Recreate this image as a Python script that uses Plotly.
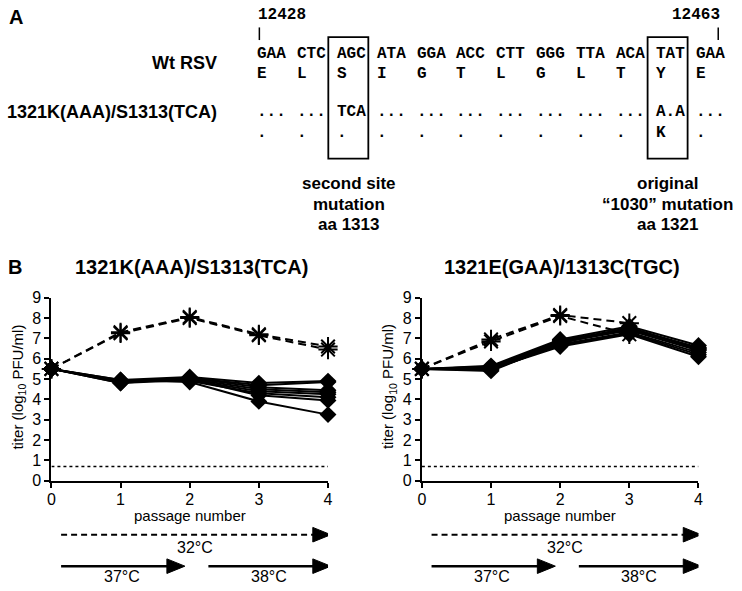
import plotly.graph_objects as go

# ---------------- data ----------------
passages = [0, 1, 2, 3, 4]

# Panel B left: 1321K(AAA)/S1313(TCA)
left_solid = [
    [5.5, 4.95, 5.10, 4.80, 4.90],
    [5.5, 4.90, 5.05, 4.60, 4.45],
    [5.5, 4.85, 5.00, 4.50, 4.35],
    [5.5, 4.80, 4.95, 4.40, 4.25],
    [5.5, 4.90, 4.90, 4.30, 4.10],
    [5.5, 4.85, 5.00, 4.20, 3.95],
    [5.5, 4.95, 4.85, 3.90, 3.25],
    [5.5, 4.80, 5.05, 4.70, 4.85],
]
left_dashed = [
    [5.5, 7.30, 8.05, 7.20, 6.60],
    [5.5, 7.25, 8.00, 7.15, 6.45],
]

# Panel B right: 1321E(GAA)/1313C(TGC)
right_solid = [
    [5.5, 5.65, 6.95, 7.60, 6.65],
    [5.5, 5.60, 6.90, 7.50, 6.55],
    [5.5, 5.55, 6.85, 7.45, 6.50],
    [5.5, 5.50, 6.80, 7.40, 6.40],
    [5.5, 5.45, 6.70, 7.30, 6.30],
    [5.5, 5.60, 6.65, 7.25, 6.20],
    [5.5, 5.50, 6.60, 7.20, 6.10],
    [5.5, 5.40, 6.75, 7.55, 6.45],
]
right_dashed_x = [0, 1, 2, 3]
right_dashed = [
    [5.5, 6.95, 8.15, 7.75],
    [5.5, 6.85, 8.10, 7.20],
]

detection_limit = 0.7

y_ticks = [0, 1, 2, 3, 4, 5, 6, 7, 8, 9]
x_ticks = [0, 1, 2, 3, 4]

# Panel A sequence
wt_codons = ["GAA", "CTC", "AGC", "ATA", "GGA", "ACC", "CTT", "GGG", "TTA", "ACA", "TAT", "GAA"]
wt_aa = ["E", "L", "S", "I", "G", "T", "L", "G", "L", "T", "Y", "E"]
mut_codons = ["...", "...", "TCA", "...", "...", "...", "...", "...", "...", "...", "A.A", "..."]
mut_aa = [".", ".", ".", ".", ".", ".", ".", ".", ".", ".", "K", "."]
boxed_codons = [2, 10]
box_labels = [["second site", "mutation", "aa 1313"], ["original", "\u201c1030\u201d mutation", "aa 1321"]]
nt_start, nt_end = "12428", "12463"

# ---------------- layout helpers ----------------
W, H = 742, 591
def px(x):
    return x / W
def py(y):
    return 1 - y / H

SANS = "Liberation Sans, Arial, sans-serif"
MONO = "Liberation Mono, Courier New, monospace"

fig = go.Figure()

def add_panel(solid, dashed, dashed_x, xa, ya):
    for s in solid:
        fig.add_trace(go.Scatter(
            x=passages, y=s, mode="lines+markers", xaxis=xa, yaxis=ya,
            line=dict(color="black", width=2),
            marker=dict(symbol="diamond", size=13, color="black"),
            cliponaxis=False, showlegend=False, hoverinfo="skip"))
    for s in dashed:
        fig.add_trace(go.Scatter(
            x=dashed_x, y=s, mode="lines+markers", xaxis=xa, yaxis=ya,
            line=dict(color="black", width=2, dash="8px,5px"),
            marker=dict(symbol="asterisk-open", size=16, color="black",
                        line=dict(color="black", width=2)),
            cliponaxis=False, showlegend=False, hoverinfo="skip"))
    fig.add_trace(go.Scatter(
        x=[passages[0], passages[-1]], y=[detection_limit, detection_limit],
        mode="lines", xaxis=xa, yaxis=ya,
        line=dict(color="black", width=1.5, dash="dot"),
        cliponaxis=False, showlegend=False, hoverinfo="skip"))

add_panel(left_solid, left_dashed, passages, "x", "y")
add_panel(right_solid, right_dashed, right_dashed_x, "x2", "y2")

ydom = [py(486.7), py(298.3)]
axis_common = dict(showline=True, linecolor="black", linewidth=2, ticks="outside",
                   ticklen=5, tickwidth=2, tickcolor="black", showgrid=False,
                   zeroline=False, tickfont=dict(family=SANS, size=16, color="black"))
fig.update_layout(
    width=W, height=H, margin=dict(l=0, r=0, t=0, b=0),
    paper_bgcolor="white", plot_bgcolor="white",
    xaxis=dict(domain=[px(48), px(328)], range=[0, 4], tickvals=x_ticks, anchor="y",
               ticklabelstandoff=-2, **axis_common),
    yaxis=dict(domain=ydom, range=[0, 9], tickvals=y_ticks, anchor="x", **axis_common),
    xaxis2=dict(domain=[px(423), px(703)], range=[0, 4], tickvals=x_ticks, anchor="y2",
                ticklabelstandoff=-2, **axis_common),
    yaxis2=dict(domain=ydom, range=[0, 9], tickvals=y_ticks, anchor="x2", **axis_common),
)

ann = []
shapes = []

def text(x, y, t, size=16, bold=False, family=SANS, xanchor="center", angle=0):
    ann.append(dict(x=px(x), y=py(y), xref="paper", yref="paper", text=(f"<b>{t}</b>" if bold else t),
                    showarrow=False, xanchor=xanchor, yanchor="middle", textangle=angle,
                    font=dict(family=family, size=size, color="black")))

# ---- Panel A ----
text(3, 9, "A", size=20, bold=True, xanchor="left")
text(218, 57, "Wt RSV", size=18, bold=True, xanchor="right")
text(218, 107, "1321K(AAA)/S1313(TCA)", size=18, bold=True, xanchor="right")

cod_x0, cod_dx = 254, 40.4
for i in range(len(wt_codons)):
    xl = cod_x0 + cod_dx * i
    text(xl, 47, wt_codons[i], size=16, bold=True, family=MONO, xanchor="left")
    text(xl, 68, wt_aa[i], size=16, bold=True, family=MONO, xanchor="left")
    text(xl, 107, mut_codons[i], size=16, bold=True, family=MONO, xanchor="left")
    text(xl, 129, mut_aa[i], size=16, bold=True, family=MONO, xanchor="left")

text(255, 7, nt_start, size=16, bold=True, family=MONO, xanchor="left")
text(727, 7, nt_end, size=16, bold=True, family=MONO, xanchor="right")
for xt in (258.5, 723):
    shapes.append(dict(type="line", xref="paper", yref="paper", x0=px(xt), x1=px(xt),
                       y0=py(20), y1=py(33), line=dict(color="black", width=1.5)))

for bi, ci in enumerate(boxed_codons):
    xl = cod_x0 + cod_dx * ci
    shapes.append(dict(type="rect", xref="paper", yref="paper", x0=px(xl - 6.5), x1=px(xl + 34),
                       y0=py(30), y1=py(155), line=dict(color="black", width=1.8)))
    cx = xl + 14
    for li, line in enumerate(box_labels[bi]):
        text(cx, 181 + 21 * li, line, size=17, bold=True)

# ---- Panel B ----
text(2, 267, "B", size=20, bold=True, xanchor="left")
text(190, 267, "1321K(AAA)/S1313(TCA)", size=20, bold=True)
text(565, 267, "1321E(GAA)/1313C(TGC)", size=20, bold=True)

for off, xr in ((0, "x"), (375, "x2")):
    text(15 + off, 390, "titer (log<sub>10</sub> PFU/ml)", size=15, angle=-90)
    text(188 + off, 523, "passage number", size=15)
    # temperature arrows
    arrows = [("32\u00b0C", 0.14, 4.04, 542.3, "dash", 193, 555),
              ("37\u00b0C", 0.14, 1.93, 574.7, "solid", 119, 585),
              ("38\u00b0C", 2.27, 4.04, 574.7, "solid", 268, 585)]
    for lab, a0, a1, ay, dash, lx, ly in arrows:
        head = 0.26
        shapes.append(dict(type="line", xref=xr, yref="paper", x0=a0, x1=a1 - head + 0.02,
                           y0=py(ay), y1=py(ay),
                           line=dict(color="black", width=2.5 if dash == "solid" else 2,
                                     dash="6px,4px" if dash == "dash" else "solid")))
        hh = 7.5 / H
        shapes.append(dict(type="path", xref=xr, yref="paper",
                           path=f"M {a1 - head},{py(ay) + hh} L {a1},{py(ay)} L {a1 - head},{py(ay) - hh} Z",
                           fillcolor="black", line=dict(color="black", width=1)))
        text(lx + off, ly, lab, size=16)

fig.update_layout(annotations=ann, shapes=shapes)
fig.write_html("out.html", config={"displayModeBar": False},
               post_script="document.body.style.margin='0px';document.body.style.overflow='hidden';")
